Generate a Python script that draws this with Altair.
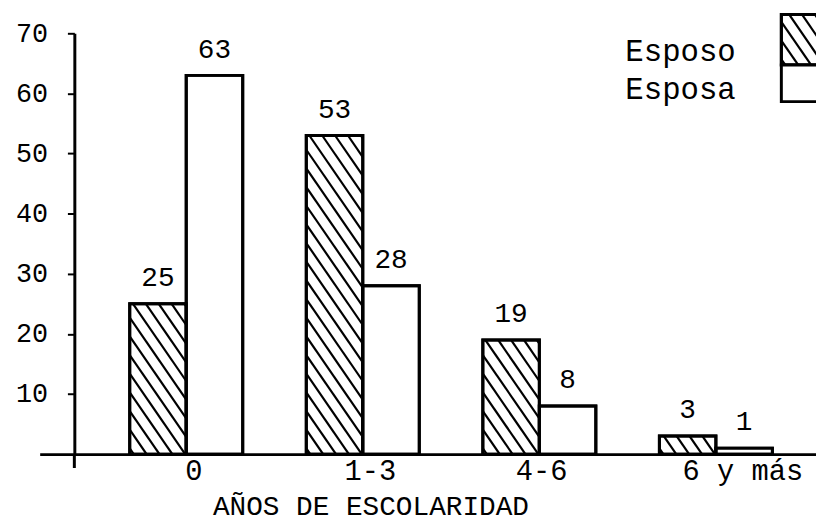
import altair as alt
import pandas as pd

# ---------------- data ----------------
categories = ["0", "1-3", "4-6", "6 y más"]
series = ["Esposo", "Esposa"]
esposo = [25, 53, 19, 3]
esposa = [63, 28, 8, 1]
y_ticks = [10, 20, 30, 40, 50, 60, 70]
x_title = "AÑOS DE ESCOLARIDAD"

rows = []
for i, c in enumerate(categories):
    rows.append({"cat": c, "idx": i, "serie": series[0], "value": esposo[i]})
    rows.append({"cat": c, "idx": i, "serie": series[1], "value": esposa[i]})
df = pd.DataFrame(rows)
legend_df = pd.DataFrame({"serie": series, "pos": [0, 1]})

# ---------------- layout / style ----------------
W, H = 784, 425
XMIN, XMAX = -0.83, 3.567
YMAX = 70
BW = 0.32                       # bar width in category units
PXU = W / (XMAX - XMIN)         # px per x unit
PYU = H / YMAX                  # px per y unit
FONT = "Liberation Mono"
SP = 13.0                       # hatch spacing (px, horizontal)
S = 1.45                        # hatch slope (down per right)
HATCH_W = 2.2
label_pos = [0.04, 1.04, 2.01, 3.15]
LEG_X0, LEG_X1 = 749, 800
legend_box_top = [-19, 32]
legend_box_bot = [32, 69]
legend_text_x = 703
legend_text_y = [19, 57]

xs = alt.Scale(domain=[XMIN, XMAX], nice=False, zero=False)
ys = alt.Scale(domain=[0, YMAX], nice=False, zero=True)

expr = "'" + categories[-1] + "'"
for i in range(len(categories) - 2, -1, -1):
    expr = f"datum.value < {i + 0.5} ? '{categories[i]}' : " + expr

x_axis = alt.Axis(
    values=label_pos, labelExpr=expr, ticks=False, grid=False,
    domainColor="black", domainWidth=3,
    labelFont=FONT, labelFontSize=29, labelColor="black", labelPadding=3,
    labelFlush=False, labelOverlap=False,
    title=x_title, titleFont=FONT, titleFontSize=28, titleFontWeight="normal",
    titleColor="black", titleX=334, titleY=61, titleAlign="center",
    titleBaseline="alphabetic",
)
y_axis = alt.Axis(
    values=y_ticks, offset=-35, grid=False,
    domainColor="black", domainWidth=3,
    tickColor="black", tickSize=7, tickWidth=2,
    labelFont=FONT, labelFontSize=27, labelColor="black", labelPadding=20,
    title=None,
)

base = alt.Chart(df).transform_calculate(
    x0=f"datum.idx + (datum.serie == '{series[0]}' ? {-BW} : 0)"
).transform_calculate(
    x1=f"datum.x0 + {BW}", xc=f"datum.x0 + {BW / 2}", zero="0"
)

bars = base.mark_rect(fill="white", stroke="black", strokeWidth=3).encode(
    x=alt.X("x0:Q", scale=xs, axis=x_axis),
    x2="x1:Q",
    y=alt.Y("value:Q", scale=ys, axis=y_axis),
    y2="zero:Q",
)


def hatch(chart, L, T, Wd, Ht):
    return (
        chart.transform_calculate(hL=L, hT=T, hW=Wd, hH=Ht)
        .transform_calculate(ks=f"sequence(0, ceil((datum.hW + datum.hH/{S})/{SP}) + 2)")
        .transform_flatten(["ks"], as_=["k"])
        .transform_calculate(c=f"datum.k*{SP} - datum.hH/{S} + 4")
        .transform_calculate(
            v0=f"max(0, -datum.c*{S})",
            v1=f"min(datum.hH, (datum.hW - datum.c)*{S})",
        )
        .transform_filter("datum.v1 > datum.v0 + 0.5")
        .transform_calculate(
            hx0=f"{XMIN} + (datum.hL + datum.c + datum.v0/{S})/{PXU}",
            hx1=f"{XMIN} + (datum.hL + datum.c + datum.v1/{S})/{PXU}",
            hy0=f"({H} - (datum.hT + datum.v0))/{PYU}",
            hy1=f"({H} - (datum.hT + datum.v1))/{PYU}",
        )
        .mark_rule(color="black", strokeWidth=HATCH_W)
        .encode(
            x=alt.X("hx0:Q", scale=xs, axis=x_axis),
            x2="hx1:Q",
            y=alt.Y("hy0:Q", scale=ys, axis=y_axis),
            y2="hy1:Q",
        )
    )


bar_hatch = hatch(
    base.transform_filter(f"datum.serie == '{series[0]}'"),
    f"(datum.x0 - {XMIN})*{PXU}",
    f"{H} - datum.value*{PYU}",
    f"{BW * PXU}",
    f"datum.value*{PYU}",
)

bar_outline = base.mark_rect(fill=None, stroke="black", strokeWidth=3).encode(
    x=alt.X("x0:Q", scale=xs, axis=x_axis),
    x2="x1:Q",
    y=alt.Y("value:Q", scale=ys, axis=y_axis),
    y2="zero:Q",
)

labels = base.mark_text(
    baseline="bottom", dy=-12, font=FONT, fontSize=28, color="black"
).encode(
    x=alt.X("xc:Q", scale=xs, axis=x_axis),
    y=alt.Y("value:Q", scale=ys, axis=y_axis),
    text="value:Q",
)

leg_layers = []
for i, s in enumerate(series):
    one = alt.Chart(legend_df).transform_filter(f"datum.serie == '{s}'")
    leg_layers.append(
        one.mark_rect(fill="white", stroke="black", strokeWidth=3).encode(
            x=alt.value(LEG_X0), x2=alt.value(LEG_X1),
            y=alt.value(legend_box_top[i]), y2=alt.value(legend_box_bot[i]),
        )
    )
    if i == 0:
        leg_layers.append(
            hatch(one, f"{LEG_X0}", f"{legend_box_top[i]}", f"{LEG_X1 - LEG_X0}",
                  f"{legend_box_bot[i] - legend_box_top[i]}")
        )
        leg_layers.append(
            one.mark_rect(fill=None, stroke="black", strokeWidth=3).encode(
                x=alt.value(LEG_X0), x2=alt.value(LEG_X1),
                y=alt.value(legend_box_top[i]), y2=alt.value(legend_box_bot[i]),
            )
        )
    leg_layers.append(
        one.mark_text(align="right", baseline="middle", font=FONT, fontSize=31,
                      color="black").encode(
            x=alt.value(legend_text_x), y=alt.value(legend_text_y[i]), text="serie:N"
        )
    )

axis_stub = alt.Chart(legend_df).transform_filter("datum.pos == 0").mark_rule(
    color="black", strokeWidth=3
).encode(x=alt.value(35), y=alt.value(H), y2=alt.value(H + 14))

chart = alt.layer(
    bars, bar_hatch, bar_outline, labels, axis_stub, *leg_layers
).properties(
    width=W, height=H,
    padding={"left": 32, "top": 23, "right": 0, "bottom": 68},
    autosize=alt.AutoSizeParams(type="none"),
    background="white",
).configure_view(strokeWidth=0)

chart.save("out.html", embed_options={"renderer": "svg", "actions": False})
